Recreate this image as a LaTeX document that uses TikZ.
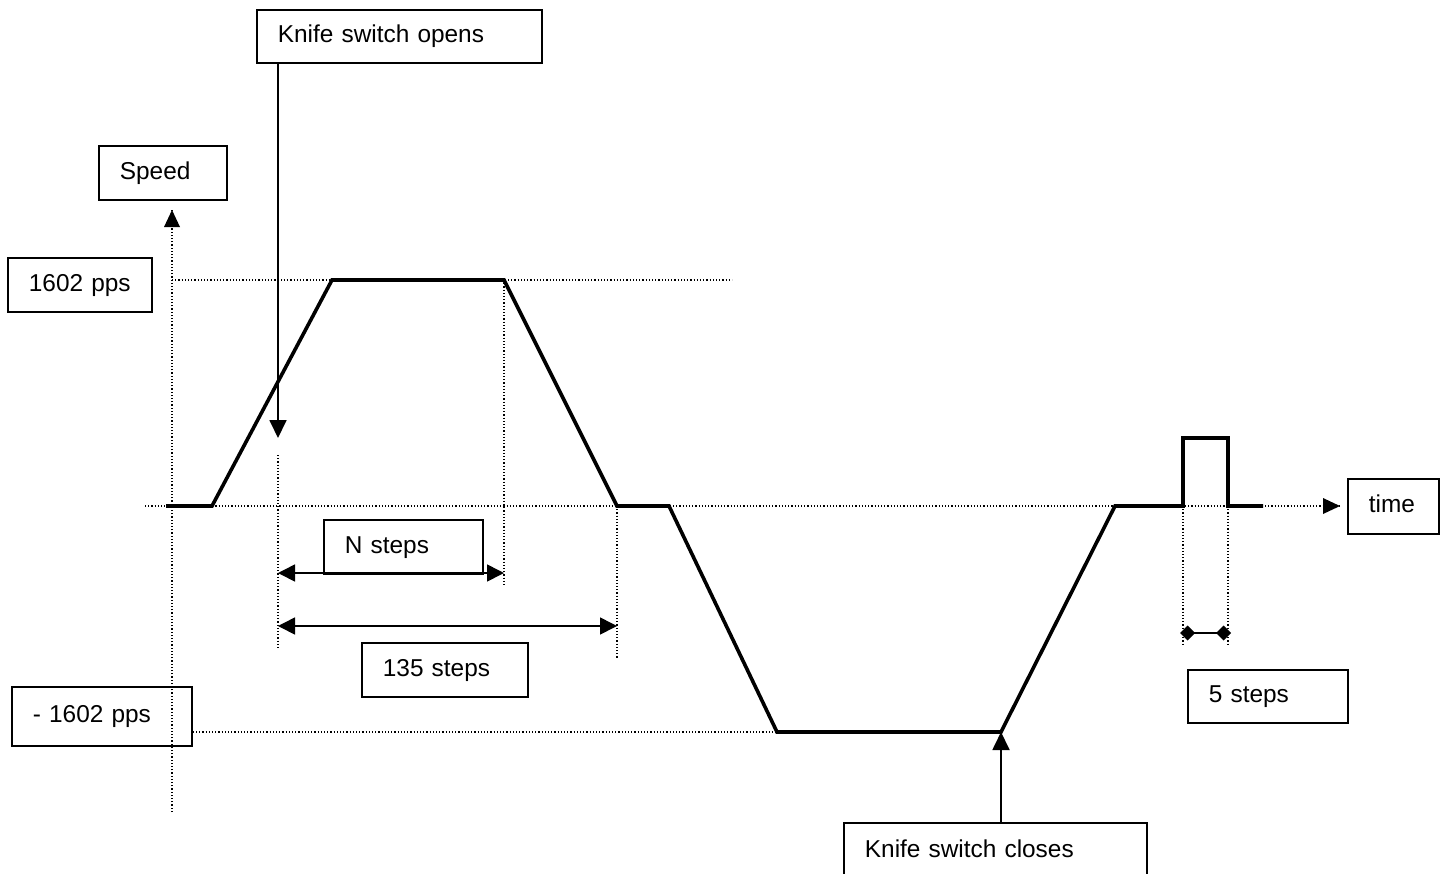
\documentclass[tikz,border=0pt]{standalone}
\usepackage{fontspec}
\setmainfont{Liberation Sans}
\usetikzlibrary{arrows.meta}

\begin{document}
\begin{tikzpicture}[x=1pt,y=-1pt,
	lbox/.style={draw,line width=1.8pt,anchor=north west,inner xsep=21pt,inner ysep=0pt,
		text width=#1,align=left,text height=18pt,text depth=5pt,font=\fontsize{24.4}{30}\selectfont},
	dots/.style={line width=1.2pt,dash pattern=on 1.2pt off 2pt},
	prof/.style={line width=3.6pt,line join=miter},
	knife/.style={line width=1.8pt,-{Triangle[length=18pt,width=17pt]}},
	dimen/.style={line width=1.6pt,{Triangle[length=17pt,width=17pt]}-{Triangle[length=17pt,width=17pt]}}]
	\fill[white] (0,0) rectangle (1442,873);
	\useasboundingbox (0,0) rectangle (1442,873);
	\def\yz{506}%time axis
	\def\yp{280}%+1602 pps
	\def\ym{732}%-1602 pps
	% labels
	\node[lbox=243,minimum height=53pt] (opens) at (256,9) {Knife switch opens};
	\node[lbox=86,minimum height=54pt] (speed) at (98,145) {Speed};
	\node[lbox=102,minimum height=54pt] (vmax) at (7,257) {1602\ pps};
	\node[lbox=138,minimum height=59pt] (vmin) at (11,686) {- 1602 pps};
	\node[lbox=117,minimum height=54pt] (nsteps) at (323,519) {N steps};
	\node[lbox=124,minimum height=54pt] (steps135) at (361,642) {135 steps};
	\node[lbox=49,minimum height=55pt] (time) at (1347,478) {time};
	\node[lbox=118,minimum height=53pt] (steps5) at (1187,669) {5 steps};
	\node[lbox=261,minimum height=56pt] (closes) at (843,822) {Knife switch closes};
	% axes
	\coordinate (tAxis) at (1340,\yz);
	\coordinate (sAxis) at (172,210);
	\draw[dots] (145,\yz) -- (tAxis);
	\draw[dots] (172,812) -- (sAxis);
	\fill (tAxis) -- ++(-17,-8) -- ++(0,16) -- cycle;
	\fill (sAxis) -- ++(-8,17) -- ++(16,0) -- cycle;
	% guide lines
	\draw[dots] (172,\yp) -- (732,\yp);
	\draw[dots] (vmin.east |- 0,\ym) -- (777,\ym);
	\draw[dots] (278,455) -- (278,650);
	\draw[dots] (504,\yp) -- (504,585);
	\draw[dots] (617,\yz) -- (617,658);
	\foreach \x in {1183,1228}{
		\draw[dots] (\x,\yz) -- (\x,645);
	}
	% speed profile
	\draw[prof] (166,\yz) -- (212,\yz) -- (332,\yp) -- (504,\yp) -- (617,\yz) -- (669,\yz)
		-- (777,\ym) -- (1001,\ym) -- (1115,\yz) -- (1183,\yz) -- (1183,438) -- (1228,438)
		-- (1228,\yz) -- (1263,\yz);
	% knife switch
	\coordinate (openTip) at (278,438);
	\coordinate (closeTip) at (1001,732);
	\draw[knife] (opens.south -| openTip) -- (openTip);
	\draw[knife] (closes.north -| closeTip) -- (closeTip);
	% step counts
	\draw[dimen] (278,573) -- (504,573);
	\draw[dimen] (278,626) -- (617,626);
	\draw[line width=1.6pt,{Diamond[length=15pt,width=15pt]}-{Diamond[length=15pt,width=15pt]}] (1180,633) -- (1231,633);
\end{tikzpicture}
\end{document}
